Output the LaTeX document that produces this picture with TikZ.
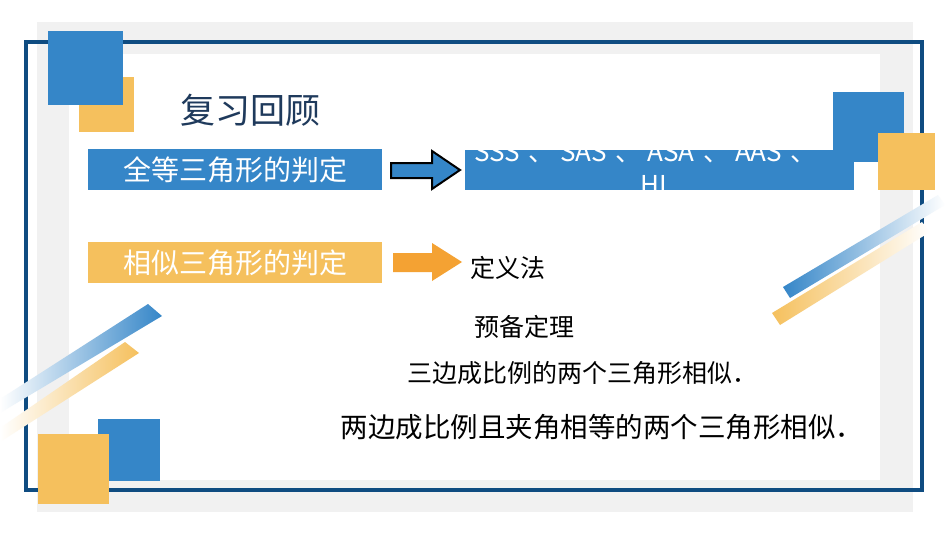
\documentclass[tikz,border=0pt]{standalone}
\usepackage{fontspec}
\setmainfont{Noto Sans CJK SC}
\definecolor{cblue}{HTML}{3586C8}
\definecolor{cyel}{HTML}{F5C05D}
\definecolor{cframe}{HTML}{0F4C81}
\definecolor{cgray}{HTML}{F1F1F1}
\definecolor{corange}{HTML}{F4A233}
\definecolor{ctitle}{HTML}{1F3A5C}
\begin{document}
\begin{tikzpicture}[x=1pt,y=-1pt,
  bar/.style={inner sep=0pt,minimum width=294pt,minimum height=41pt,text=white,font=\fontsize{28}{32}\selectfont},
  body/.style={font=\fontsize{25}{30}\selectfont,inner sep=0pt}]
\useasboundingbox (0,0) rectangle (950,535);
\fill[white] (0,0) rectangle (950,535);
\fill[cgray] (37,22) rectangle (913,512);
\fill[white] (69,54) rectangle (880,480);
\draw[cframe,line width=3.5pt] (26,42) rectangle (922,490);
% stripes
\shade[left color=cblue,right color=white] (783,287) -- (790,298) -- (945,205) -- (938,195) -- cycle;
\shade[left color=cyel,right color=white] (772,313) -- (780,325) -- (930,232) -- (922,222) -- cycle;
\shade[right color=cblue,left color=white] (148,304) -- (162,316) -- (0,413) -- (0,399) -- cycle;
\shade[right color=cyel,left color=white] (125,342) -- (139,353) -- (0,442) -- (0,428) -- cycle;
% squares
\fill[cyel] (79,77) rectangle (134,132);
\fill[cblue] (48,31) rectangle (123,105);
\fill[cblue] (833,92) rectangle (904,162);
\fill[cblue] (98,419) rectangle (160,481);
\fill[cyel] (38,434) rectangle (109,504);
\node[font=\fontsize{35}{40}\selectfont,text=ctitle,inner sep=0pt] (title) at (250,110) {复习回顾};
\node[bar,fill=cblue] (b1) at (235,169.5) {全等三角形的判定};
\node[bar,fill=cyel] (b2) at (235,262.5) {相似三角形的判定};
\fill[cblue] (465,150) rectangle (854,190);
\begin{scope}
\clip (465,150) rectangle (854,190);
\node[text=white,font=\fontsize{26}{30}\selectfont,inner sep=0pt,anchor=north west] (s1) at (474,142) {SSS\,\,、 SAS\,\,、 ASA\,\,、 AAS\,\,、};
\node[text=white,font=\fontsize{26}{30}\selectfont,inner sep=0pt,anchor=north] (hl) at (657,175) {HL};
\end{scope}
\fill[cyel] (878,133) rectangle (935,190);
\filldraw[fill=cblue,draw=black,line width=2pt] (391,163) -- (432,163) -- (432,151) -- (460,170) -- (432,189) -- (432,178) -- (391,178) -- cycle;
\fill[corange] (393,253) -- (432,253) -- (432,243) -- (462,262) -- (432,281) -- (432,272) -- (393,272) -- cycle;
\node[font=\fontsize{25}{30}\selectfont,inner sep=0pt,anchor=west] (d1) at (470,268) {定义法};
\node[font=\fontsize{25}{30}\selectfont,inner sep=0pt] (d2) at (524,327) {预备定理};
\node[body] (d3) at (582,373) {三边成比例的两个三角形相似．};
\node[body,font=\fontsize{27.5}{32}\selectfont] (d4) at (602,427) {两边成比例且夹角相等的两个三角形相似．};
\end{tikzpicture}
\end{document}
